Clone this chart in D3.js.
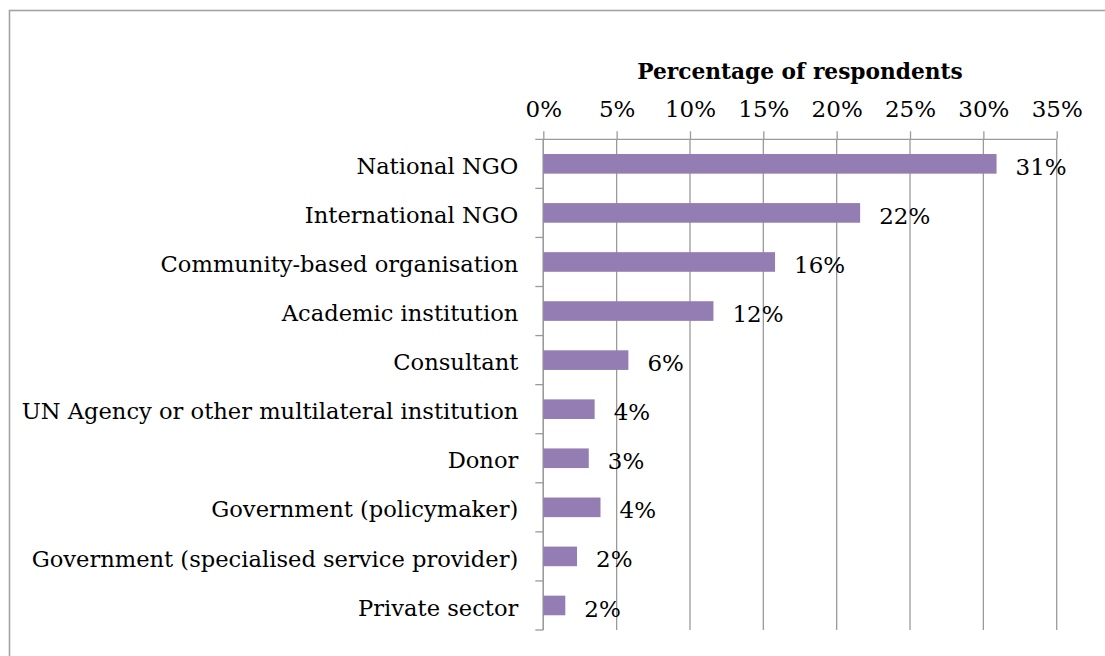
<!DOCTYPE html>
<html>
<head>
<meta charset="utf-8">
<script src="https://cdn.jsdelivr.net/npm/d3@7"></script>
<style>
  html, body { margin: 0; padding: 0; background: #fff; }
  svg { display: block; }
  text { font-family: "DejaVu Serif", serif; fill: #000; }
</style>
</head>
<body>
<svg id="chart" width="1105" height="656"></svg>
<script>
// Respondent types and their share of respondents (%)
const categories = [
  "National NGO",
  "International NGO",
  "Community-based organisation",
  "Academic institution",
  "Consultant",
  "UN Agency or other multilateral institution",
  "Donor",
  "Government (policymaker)",
  "Government (specialised service provider)",
  "Private sector"
];
const shares = [30.9, 21.6, 15.8, 11.6, 5.8, 3.5, 3.1, 3.9, 2.3, 1.5];
const tickValues = [0, 5, 10, 15, 20, 25, 30, 35];
const axisTitle = "Percentage of respondents";

const svg = d3.select("#chart");
const plot = { left: 543.3, right: 1056.7, top: 139.3, bottom: 630 };
const gridColor = "#9a9a9a";
const barColor = "#947db2";

// outer frame
svg.append("rect")
  .attr("x", 9.5).attr("y", 10.5)
  .attr("width", 1200).attr("height", 700)
  .attr("fill", "none").attr("stroke", "#a3a3a3").attr("stroke-width", 1.6);

const x = d3.scaleLinear().domain([0, 35]).range([plot.left, plot.right]);
const y = d3.scaleBand().domain(categories)
  .range([plot.top, plot.bottom]).paddingInner(0.6).paddingOuter(0.3);

// vertical gridlines
svg.append("g").selectAll("line").data(tickValues).join("line")
  .attr("x1", d => x(d)).attr("x2", d => x(d))
  .attr("y1", plot.top).attr("y2", plot.bottom)
  .attr("stroke", gridColor).attr("stroke-width", 1.3);

// top value axis
const xAxis = svg.append("g")
  .attr("transform", `translate(0,${plot.top})`)
  .call(d3.axisTop(x).tickValues(tickValues).tickFormat(d => d + "%").tickSize(8).tickPadding(14));
xAxis.select(".domain").remove();
xAxis.selectAll(".tick line").attr("stroke", gridColor).attr("stroke-width", 1.3);
xAxis.selectAll(".tick text")
  .attr("font-family", "DejaVu Serif").attr("font-size", 23).attr("fill", "#000");
svg.append("line")
  .attr("x1", plot.left - 8).attr("x2", plot.right)
  .attr("y1", plot.top).attr("y2", plot.top)
  .attr("stroke", gridColor).attr("stroke-width", 1.3);

// category axis with ticks between categories
svg.append("line")
  .attr("x1", plot.left).attr("x2", plot.left)
  .attr("y1", plot.top).attr("y2", plot.bottom)
  .attr("stroke", gridColor).attr("stroke-width", 1.3);
const bounds = d3.range(categories.length + 1).map(i => plot.top + i * y.step());
svg.append("g").selectAll("line").data(bounds.slice(1)).join("line")
  .attr("x1", plot.left - 8).attr("x2", plot.left)
  .attr("y1", d => d).attr("y2", d => d)
  .attr("stroke", gridColor).attr("stroke-width", 1.3);

// bars
svg.append("g").selectAll("rect").data(categories).join("rect")
  .attr("x", x(0))
  .attr("y", d => y(d))
  .attr("width", (d, i) => x(shares[i]) - x(0))
  .attr("height", y.bandwidth())
  .attr("fill", barColor);

// category labels
svg.append("g").selectAll("text").data(categories).join("text")
  .attr("x", plot.left - 25)
  .attr("y", d => y(d) + y.bandwidth() / 2)
  .attr("dy", "0.45em")
  .attr("text-anchor", "end")
  .attr("font-size", 22.6)
  .text(d => d);

// value labels
svg.append("g").selectAll("text").data(categories).join("text")
  .attr("x", (d, i) => x(shares[i]) + 19)
  .attr("y", d => y(d) + y.bandwidth() / 2)
  .attr("dy", "0.48em")
  .attr("font-size", 23)
  .text((d, i) => Math.round(shares[i]) + "%");

// axis title
svg.append("text")
  .attr("x", (plot.left + plot.right) / 2)
  .attr("y", 79)
  .attr("text-anchor", "middle")
  .attr("font-size", 21.7)
  .attr("font-weight", "bold")
  .text(axisTitle);
</script>
</body>
</html>
